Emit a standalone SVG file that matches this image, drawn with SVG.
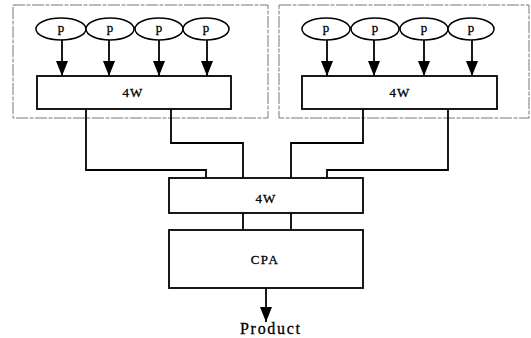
<svg xmlns="http://www.w3.org/2000/svg" width="531" height="338" viewBox="0 0 531 338">
  <defs>
    <marker id="arrow" viewBox="0 0 15 12" refX="15" refY="6" markerWidth="15" markerHeight="12" markerUnits="userSpaceOnUse" orient="auto">
      <path d="M0,0 L15,6 L0,12 Z" fill="#000"/>
    </marker>
  </defs>
  <style>
    .group { fill: none; stroke: #777; stroke-width: 1; stroke-dasharray: 12 1.5 4 1.5; }
    .box { fill: #fff; stroke: #000; stroke-width: 1.8; }
    .pe { fill: #fff; stroke: #000; stroke-width: 1.5; }
    .wire { fill: none; stroke: #000; stroke-width: 1.8; }
    .arr { fill: none; stroke: #000; stroke-width: 1.8; marker-end: url(#arrow); }
    .lbl { font-family: "Liberation Serif", "Times New Roman", serif; font-size: 13px; fill: #000; stroke: #000; stroke-width: 0.3; text-anchor: middle; }
  </style>
  <rect width="531" height="338" fill="#fff"/>

  <!-- dashed groupings -->
  <rect class="group" x="13" y="5" width="255" height="113"/>
  <rect class="group" x="279" y="5" width="250" height="113"/>

  <!-- connectors -->
  <g id="connectors">
    <path class="arr" d="M62,40 V76"/>
    <path class="arr" d="M109,40 V76"/>
    <path class="arr" d="M159,40 V76"/>
    <path class="arr" d="M207,40 V76"/>
    <path class="arr" d="M327,40 V76"/>
    <path class="arr" d="M374,40 V76"/>
    <path class="arr" d="M424,40 V76"/>
    <path class="arr" d="M472,40 V76"/>
    <path class="wire" d="M86,109 V170 H206 V178"/>
    <path class="wire" d="M171,109 V143 H243 V178"/>
    <path class="wire" d="M363,109 V143 H291 V178"/>
    <path class="wire" d="M448,109 V170 H327 V178"/>
    <path class="wire" d="M243,213 V230"/>
    <path class="wire" d="M291,213 V230"/>
    <path class="arr" d="M266,288 V322"/>
  </g>

  <!-- left processors -->
  <g id="p1"><ellipse class="pe" cx="61" cy="29" rx="25" ry="11"/><text class="lbl" x="61" y="32">p</text></g>
  <g id="p2"><ellipse class="pe" cx="110" cy="29" rx="24" ry="11"/><text class="lbl" x="110" y="32">p</text></g>
  <g id="p3"><ellipse class="pe" cx="159" cy="29" rx="24" ry="11"/><text class="lbl" x="159" y="32">p</text></g>
  <g id="p4"><ellipse class="pe" cx="206" cy="29" rx="23" ry="11"/><text class="lbl" x="206" y="32">p</text></g>

  <!-- right processors -->
  <g id="p5"><ellipse class="pe" cx="326" cy="29" rx="24" ry="11"/><text class="lbl" x="326" y="32">p</text></g>
  <g id="p6"><ellipse class="pe" cx="375" cy="29" rx="24" ry="11"/><text class="lbl" x="375" y="32">p</text></g>
  <g id="p7"><ellipse class="pe" cx="424" cy="29" rx="24" ry="11"/><text class="lbl" x="424" y="32">p</text></g>
  <g id="p8"><ellipse class="pe" cx="471" cy="29" rx="23" ry="11"/><text class="lbl" x="471" y="32">p</text></g>

  <!-- 4-way adders -->
  <g id="w4-left"><rect class="box" x="37" y="76" width="194" height="33"/><text class="lbl" x="133" y="97" letter-spacing="1">4W</text></g>
  <g id="w4-right"><rect class="box" x="302" y="76" width="195" height="33"/><text class="lbl" x="400" y="97" letter-spacing="1">4W</text></g>
  <g id="w4-mid"><rect class="box" x="169" y="178" width="194" height="35"/><text class="lbl" x="266" y="203" letter-spacing="1">4W</text></g>

  <!-- carry-propagate adder -->
  <g id="cpa"><rect class="box" x="169" y="230" width="194" height="58"/><text class="lbl" x="265" y="264" letter-spacing="1.5">CPA</text></g>

  <g id="product"><text class="lbl" x="270" y="334" style="font-size:16px" textLength="60" lengthAdjust="spacing">Product</text></g>
</svg>
